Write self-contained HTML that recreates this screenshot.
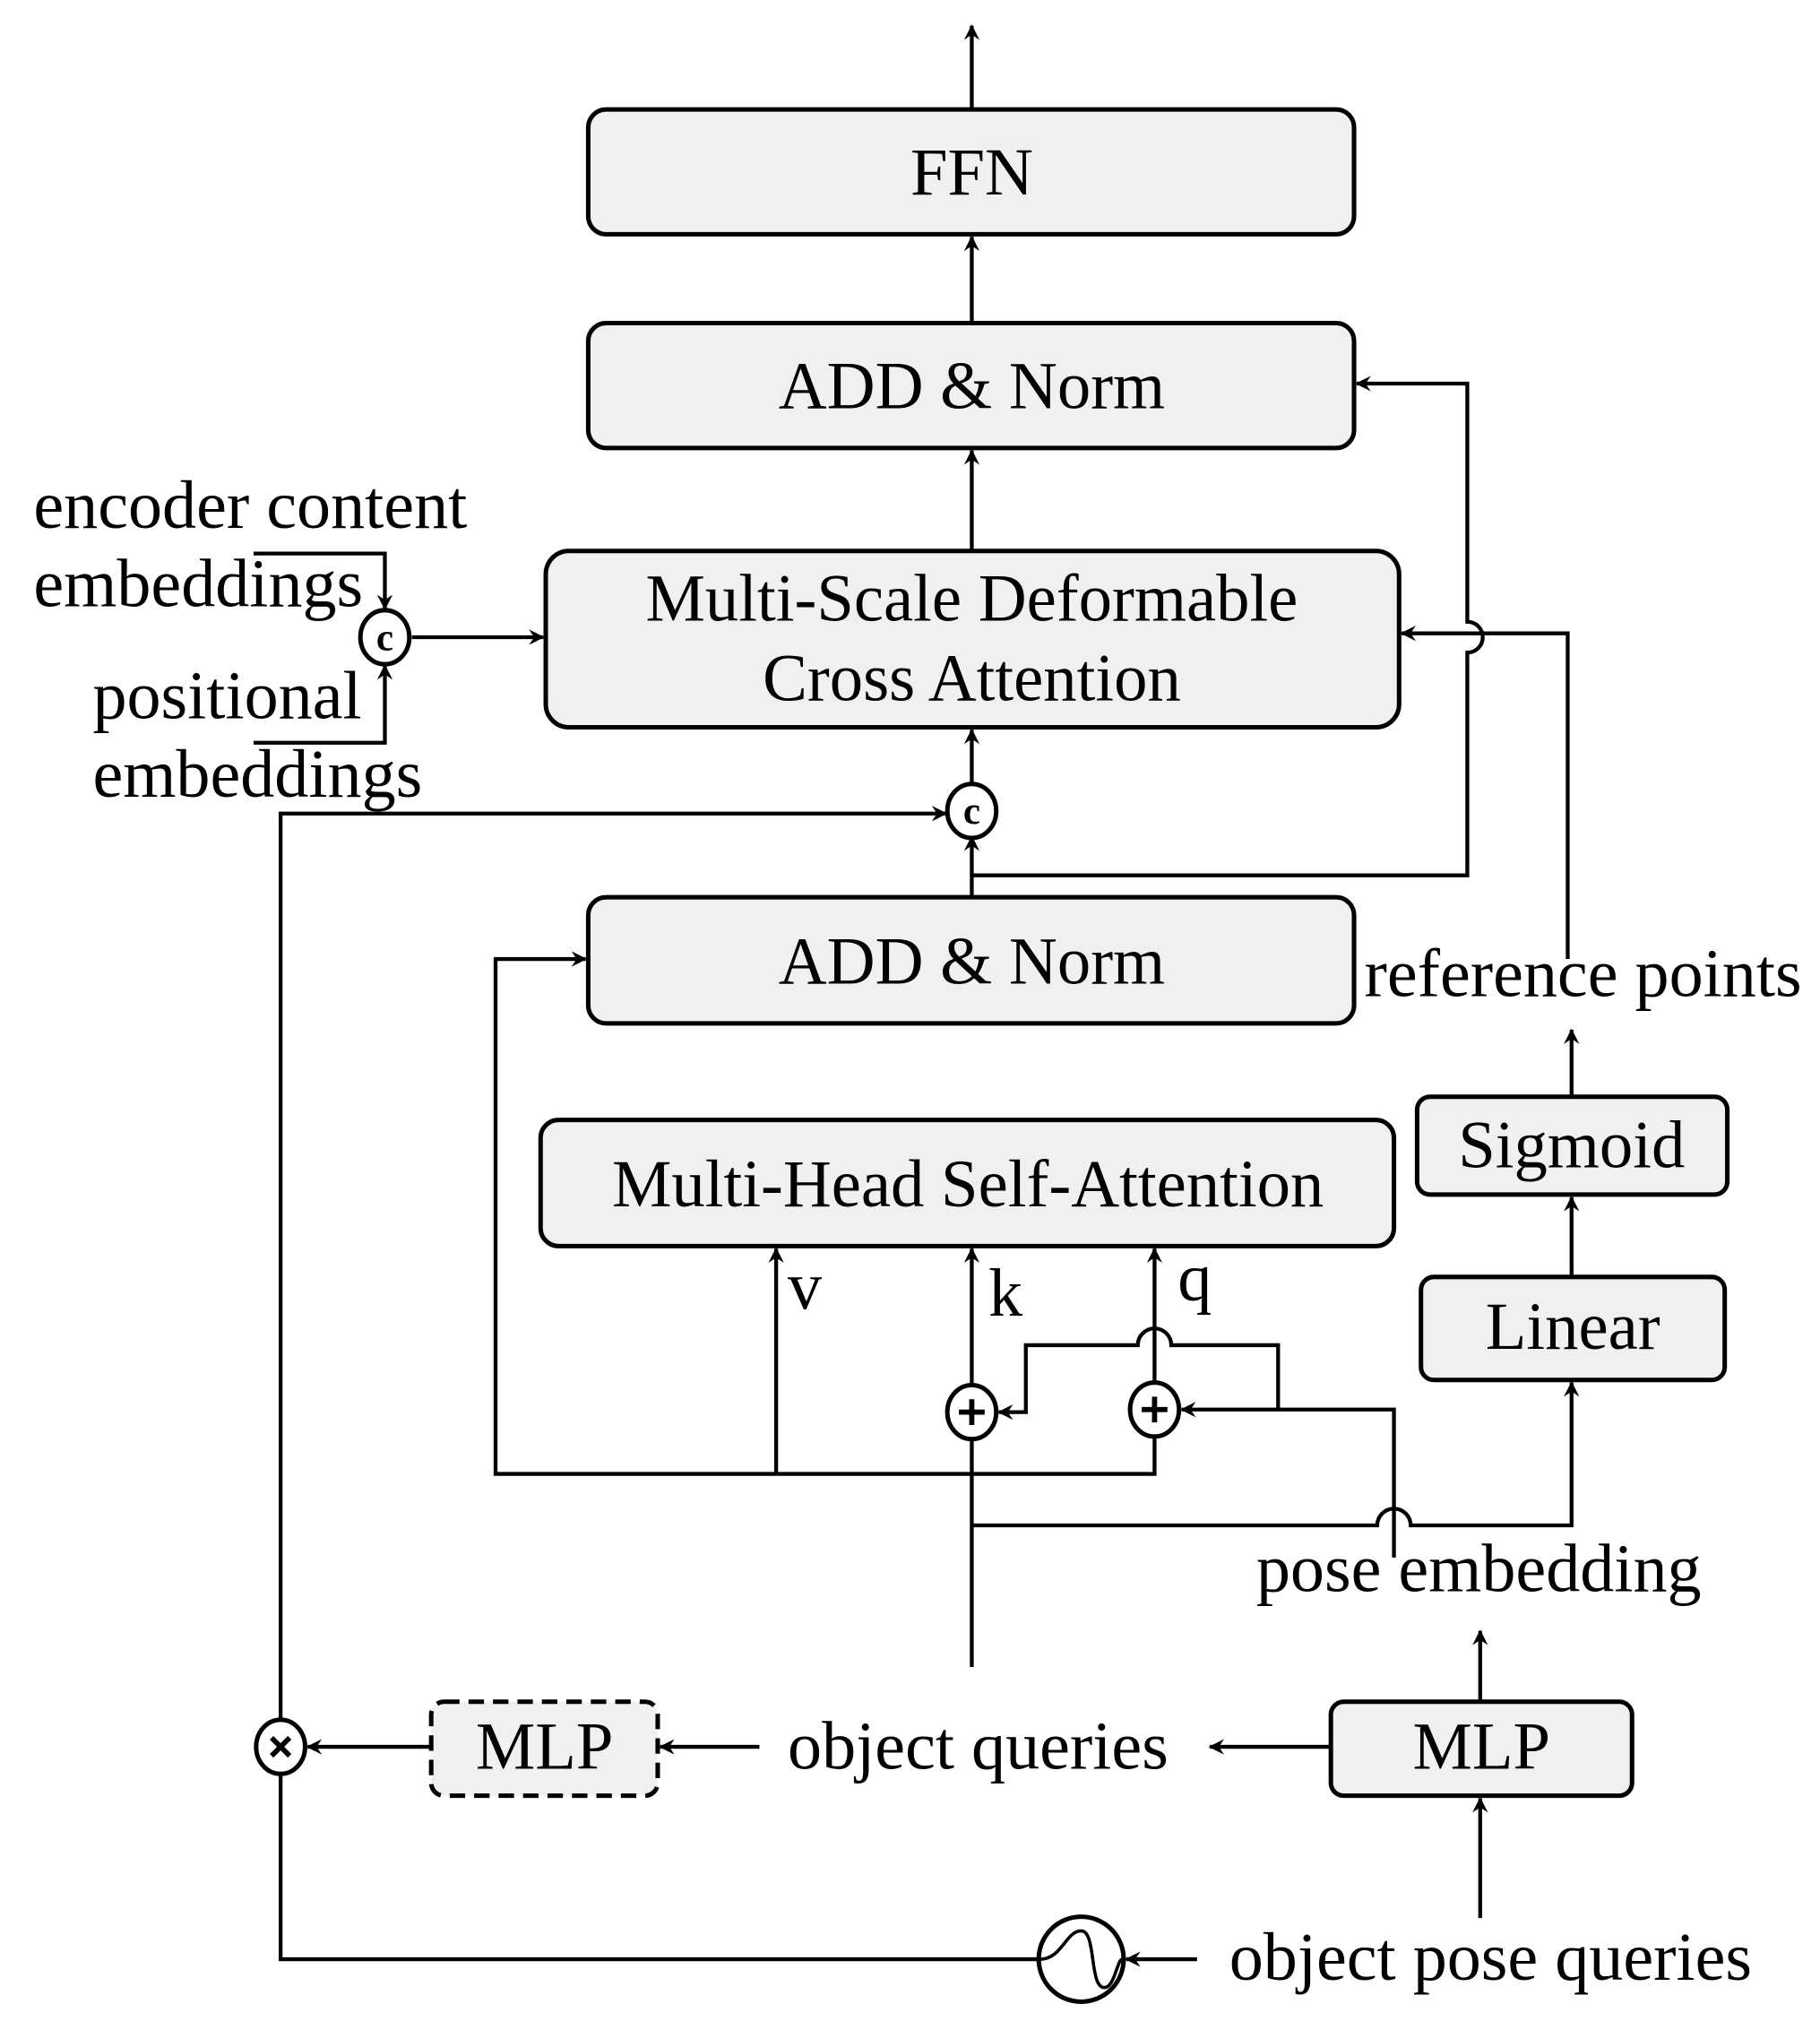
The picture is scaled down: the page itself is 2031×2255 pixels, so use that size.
<!DOCTYPE html>
<html><head><meta charset="utf-8"><style>html,body{margin:0;padding:0;background:#fff}svg{display:block}text{font-family:"Liberation Serif",serif;fill:#000}</style></head><body>
<svg width="2031" height="2255" viewBox="0 0 1414 1570" xmlns="http://www.w3.org/2000/svg">
<defs><marker id="a" markerWidth="12" markerHeight="12" refX="11" refY="6" orient="auto" markerUnits="userSpaceOnUse"><path d="M0,0 L12,6 L0,12 L4,6 Z" fill="#000"/></marker></defs>
<g fill="#f0f0f0" stroke="#000" stroke-width="3.5">
<rect x="457" y="85" width="595" height="97" rx="14"/>
<rect x="457" y="251" width="595" height="97" rx="14"/>
<rect x="424" y="428" width="663" height="137" rx="18"/>
<rect x="457" y="697" width="595" height="98" rx="14"/>
<rect x="420" y="870" width="663" height="98" rx="14"/>
<rect x="1101" y="852" width="241" height="76" rx="10"/>
<rect x="1104" y="992" width="236" height="80" rx="10"/>
<rect x="335" y="1322" width="176" height="73" rx="10" stroke-dasharray="12,7"/>
<rect x="1034" y="1322" width="234" height="73" rx="10"/>
</g>
<g fill="none" stroke="#000" stroke-width="3">
<path d="M755 85V20" marker-end="url(#a)"/>
<path d="M755 251V184" marker-end="url(#a)"/>
<path d="M755 428V350" marker-end="url(#a)"/>
<path d="M755 612V567" marker-end="url(#a)"/>
<path d="M755 697V650" marker-end="url(#a)"/>
<path d="M755 680H1140V507A12 12 0 0 0 1140 483V298H1054" marker-end="url(#a)"/>
<path d="M1218 745V492H1089" marker-end="url(#a)"/>
<path d="M197 430H299V473" marker-end="url(#a)"/>
<path d="M197 577H299V517" marker-end="url(#a)"/>
<path d="M320 495H422" marker-end="url(#a)"/>
<path d="M218 1338V632H735" marker-end="url(#a)"/>
<path d="M603 1145H385V745H455" marker-end="url(#a)"/>
<path d="M603 1145H897V1115"/>
<path d="M603 1145V970" marker-end="url(#a)"/>
<path d="M755 1295V970" marker-end="url(#a)"/>
<path d="M897 1078V970" marker-end="url(#a)"/>
<path d="M1083 1210V1095H918" marker-end="url(#a)"/>
<path d="M993 1095V1045H910A13 13 0 0 0 884 1045H797V1097H776" marker-end="url(#a)"/>
<path d="M755 1185H1070A13 13 0 0 1 1096 1185H1221V1074" marker-end="url(#a)"/>
<path d="M1221 992V930" marker-end="url(#a)"/>
<path d="M1221 852V800" marker-end="url(#a)"/>
<path d="M1150 1322V1267" marker-end="url(#a)"/>
<path d="M1150 1490V1397" marker-end="url(#a)"/>
<path d="M1034 1357H940" marker-end="url(#a)"/>
<path d="M590 1357H513" marker-end="url(#a)"/>
<path d="M335 1357H239" marker-end="url(#a)"/>
<path d="M218 1376V1522H807"/>
<path d="M930 1522H875" marker-end="url(#a)"/>
</g>
<g fill="#fff" stroke="#000" stroke-width="3.5">
<ellipse cx="299" cy="495" rx="19" ry="21"/>
<ellipse cx="755" cy="630" rx="19" ry="21"/>
<ellipse cx="755" cy="1097" rx="19" ry="21"/>
<ellipse cx="897" cy="1095" rx="19" ry="21"/>
<ellipse cx="218" cy="1357" rx="19" ry="21"/>
<circle cx="840" cy="1522" r="33"/>
</g>
<g stroke="#000" stroke-width="4" fill="none">
<path d="M745 1097H765M755 1087V1107M887 1095H907M897 1085V1105"/>
<path d="M211 1350L225 1364M225 1350L211 1364"/>
<path d="M808 1522C825 1522 828 1500 840 1500C852 1500 846 1544 858 1544C866 1544 868 1522 872 1522" stroke-width="2.5"/>
</g>
<g font-family="Liberation Sans,sans-serif" font-size="30" font-weight="bold" text-anchor="middle">
<text x="299" y="505">c</text><text x="755" y="640">c</text>
</g>
<g font-size="52" text-anchor="middle">
<text x="755" y="151">FFN</text>
<text x="755" y="317">ADD &amp; Norm</text>
<text x="755" y="482">Multi-Scale Deformable</text>
<text x="755" y="544">Cross Attention</text>
<text x="755" y="764">ADD &amp; Norm</text>
<text x="752" y="937">Multi-Head Self-Attention</text>
<text x="1221" y="907">Sigmoid</text>
<text x="1222" y="1048">Linear</text>
<text x="423" y="1374">MLP</text>
<text x="1151" y="1374">MLP</text>
</g>
<g font-size="53">
<text x="26" y="410">encoder content</text>
<text x="26" y="471">embeddings</text>
<text x="72" y="558">positional</text>
<text x="72" y="619">embeddings</text>
<text x="1060" y="774">reference points</text>
<text x="612" y="1017">v</text>
<text x="768" y="1022">k</text>
<text x="915" y="1010">q</text>
<text x="976" y="1236">pose embedding</text>
<text x="612" y="1374">object queries</text>
<text x="955" y="1538">object pose queries</text>
</g>
</svg>
</body></html>
